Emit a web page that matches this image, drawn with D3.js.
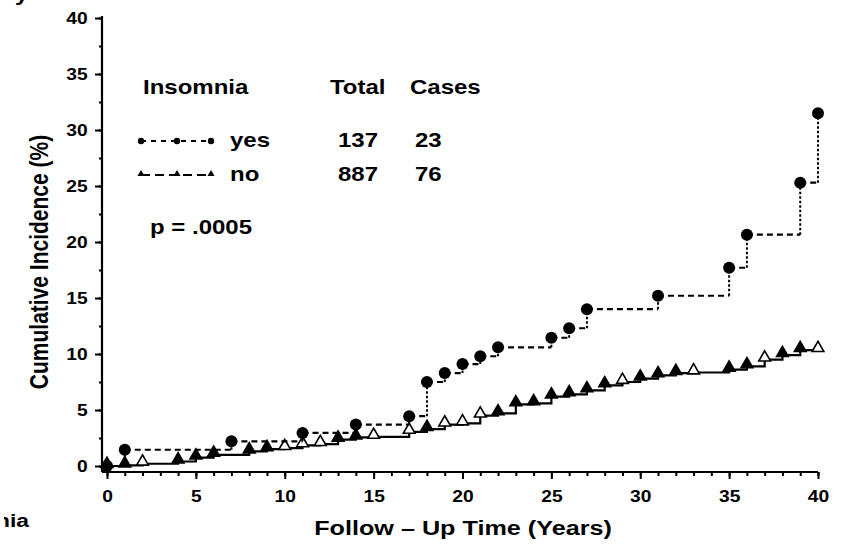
<!DOCTYPE html>
<html>
<head>
<meta charset="utf-8">
<script src="https://cdn.jsdelivr.net/npm/d3@7"></script>
<style>
  body { margin: 0; background: #fff; }
  text { font-family: "Liberation Sans", Arial, Helvetica, sans-serif; font-weight: bold; fill: #000; }
</style>
</head>
<body>
<div id="chart"></div>
<script>
// Data: cumulative incidence (%) by follow-up year
const yesYears = [0, 1, 7, 11, 14, 17, 18, 19, 20, 21, 22, 25, 26, 27, 31, 35, 36, 39, 40];
const yesCum   = [0, 1.45, 2.2, 2.95, 3.7, 4.45, 7.5, 8.3, 9.1, 9.8, 10.6, 11.45, 12.3, 14.0, 15.2, 17.7, 20.65, 25.3, 31.5];

const noYears = [0, 1, 2, 4, 5, 6, 8, 9, 10, 11, 12, 13, 14, 15, 17, 18, 19, 20, 21, 22, 23, 24, 25, 26, 27, 28, 29, 30, 31, 32, 33, 35, 36, 37, 38, 39, 40];
const noCum   = [0, 0.05, 0.2, 0.4, 0.75, 1.0, 1.3, 1.5, 1.6, 1.85, 1.95, 2.35, 2.55, 2.6, 3.05, 3.3, 3.7, 3.8, 4.5, 4.7, 5.5, 5.6, 6.2, 6.4, 6.75, 7.2, 7.5, 7.8, 8.1, 8.3, 8.35, 8.6, 8.9, 9.5, 9.9, 10.35, 10.35];
// years where the triangle is drawn open
const noOpen = [2, 10, 11, 12, 15, 17, 19, 20, 21, 29, 33, 37, 40];

const xTicks = [0, 5, 10, 15, 20, 25, 30, 35, 40];
const yTicks = [0, 5, 10, 15, 20, 25, 30, 35, 40];
const xMinor = d3.range(0, 41, 1);
const yMinor = d3.range(0, 40.1, 2.5);

const legendHead = ["Insomnia", "Total", "Cases"];
const legendGroups = ["yes", "no"];
const legendTotals = [137, 887];
const legendCases = [23, 76];
const pLabel = "p = .0005";

// Layout
const w = 841, h = 546;
const sx = 1.2; // the scan is stretched horizontally
const x = d3.scaleLinear().domain([0, 40]).range([107, 818]);
const y = d3.scaleLinear().domain([0, 40]).range([466, 18]);
const axisX = 102, axisY = 472;

const svg = d3.select("#chart").append("svg")
  .attr("width", w)
  .attr("height", h)
  .style("background", "#fff");

function stretchText(g, tx, ty, str, size, anchor) {
  return g.append("text")
    .attr("transform", `translate(${tx},${ty}) scale(${sx},1)`)
    .attr("text-anchor", anchor || "start")
    .style("font-size", size + "px")
    .text(str);
}

// Axes
const xAxis = svg.append("g").attr("transform", `translate(0,${axisY})`)
  .call(d3.axisBottom(x).tickValues(xTicks).tickSize(7).tickSizeOuter(0).tickPadding(12).tickFormat(d3.format("d")));
const xMinorAxis = svg.append("g").attr("transform", `translate(0,${axisY})`)
  .call(d3.axisBottom(x).tickValues(xMinor).tickSize(4).tickFormat(""));
const yAxis = svg.append("g").attr("transform", `translate(${axisX},0)`)
  .call(d3.axisLeft(y).tickValues(yTicks).tickSize(7).tickSizeOuter(0).tickPadding(5).tickFormat(d3.format("d")));
const yMinorAxis = svg.append("g").attr("transform", `translate(${axisX},0)`)
  .call(d3.axisLeft(y).tickValues(yMinor).tickSize(3).tickFormat(""));

[xAxis, xMinorAxis, yAxis, yMinorAxis].forEach(g => {
  g.select(".domain").remove();
  g.selectAll(".tick line").attr("stroke", "#000").attr("stroke-width", 2);
});
xAxis.selectAll(".tick text")
  .attr("transform", `scale(${sx},1)`)
  .style("font-size", "16px");
yAxis.selectAll(".tick text")
  .attr("transform", `scale(${sx},1)`)
  .style("font-size", "16px");

svg.append("line")
  .attr("x1", axisX).attr("x2", x(40))
  .attr("y1", axisY).attr("y2", axisY)
  .attr("stroke", "#000").attr("stroke-width", 2.2);
svg.append("line")
  .attr("x1", axisX).attr("x2", axisX)
  .attr("y1", y(40) - 2).attr("y2", axisY)
  .attr("stroke", "#000").attr("stroke-width", 2.2);

// Axis titles
stretchText(svg, 463, 535, "Follow \u2013 Up Time (Years)", 21, "middle");
svg.append("text")
  .attr("transform", `translate(48,262) rotate(-90) scale(1,${sx})`)
  .attr("text-anchor", "middle")
  .style("font-size", "21px")
  .text("Cumulative Incidence (%)");

// Cropped fragments of neighbouring page text
stretchText(svg, 15, 1, "y", 20);
svg.append("clipPath").attr("id", "cropL")
  .append("rect").attr("x", 4).attr("y", 500).attr("width", 60).attr("height", 46);
const frag = svg.append("g").attr("clip-path", "url(#cropL)");
stretchText(frag, -4, 527, "nia", 19);

// "no" curve: solid step line with triangles
const noPts = noYears.map((d, i) => [d, noCum[i]]);
svg.append("path")
  .datum(noPts)
  .attr("fill", "none")
  .attr("stroke", "#000")
  .attr("stroke-width", 2.2)
  .attr("d", d3.line().x(d => x(d[0])).y(d => y(d[1])).curve(d3.curveStepAfter));

const tri = d3.symbol().type(d3.symbolTriangle).size(60);
svg.append("g").selectAll("path")
  .data(noPts)
  .join("path")
  .attr("transform", d => `translate(${x(d[0])},${y(d[1]) - 2})`)
  .attr("d", tri)
  .attr("fill", d => noOpen.includes(d[0]) ? "#fff" : "#000")
  .attr("stroke", "#000")
  .attr("stroke-width", 1.6);

// "yes" curve: dashed horizontals, dotted verticals, filled circles
const yesPts = yesYears.map((d, i) => [d, yesCum[i]]);
const hSegs = yesPts.slice(1).map((d, i) => [yesPts[i], [d[0], yesPts[i][1]]]);
const vSegs = yesPts.slice(1).map((d, i) => [[d[0], yesPts[i][1]], d]);
svg.append("g").selectAll("line")
  .data(hSegs)
  .join("line")
  .attr("x1", d => x(d[0][0])).attr("y1", d => y(d[0][1]))
  .attr("x2", d => x(d[1][0])).attr("y2", d => y(d[1][1]))
  .attr("stroke", "#000").attr("stroke-width", 2.2)
  .attr("stroke-dasharray", "6,4");
svg.append("g").selectAll("line")
  .data(vSegs)
  .join("line")
  .attr("x1", d => x(d[0][0])).attr("y1", d => y(d[0][1]))
  .attr("x2", d => x(d[1][0])).attr("y2", d => y(d[1][1]))
  .attr("stroke", "#000").attr("stroke-width", 2)
  .attr("stroke-dasharray", "2.5,2");
svg.append("g").selectAll("circle")
  .data(yesPts)
  .join("circle")
  .attr("cx", d => x(d[0]))
  .attr("cy", d => y(d[1]))
  .attr("r", 6)
  .attr("fill", "#000");

// Legend
const lg = svg.append("g");
stretchText(lg, 143, 94, legendHead[0], 20);
stretchText(lg, 330, 94, legendHead[1], 20);
stretchText(lg, 410, 94, legendHead[2], 20);

const rowY = [141, 175];
const rowBase = [147, 181];
legendGroups.forEach((grp, i) => {
  lg.append("line")
    .attr("x1", 141).attr("x2", 211)
    .attr("y1", rowY[i]).attr("y2", rowY[i])
    .attr("stroke", "#000").attr("stroke-width", 2)
    .attr("stroke-dasharray", i === 0 ? "5,5" : "9,5");
  [141, 177, 211].forEach(px => {
    if (i === 0) {
      lg.append("circle").attr("cx", px).attr("cy", rowY[i]).attr("r", 3.2).attr("fill", "#000");
    } else {
      lg.append("path")
        .attr("transform", `translate(${px},${rowY[i] - 1})`)
        .attr("d", d3.symbol().type(d3.symbolTriangle).size(22))
        .attr("fill", "#000");
    }
  });
  stretchText(lg, 230, rowBase[i], grp, 20);
  stretchText(lg, 338, rowBase[i], String(legendTotals[i]), 20);
  stretchText(lg, 415, rowBase[i], String(legendCases[i]), 20);
});
stretchText(lg, 150, 234, pLabel, 20);
</script>
</body>
</html>
